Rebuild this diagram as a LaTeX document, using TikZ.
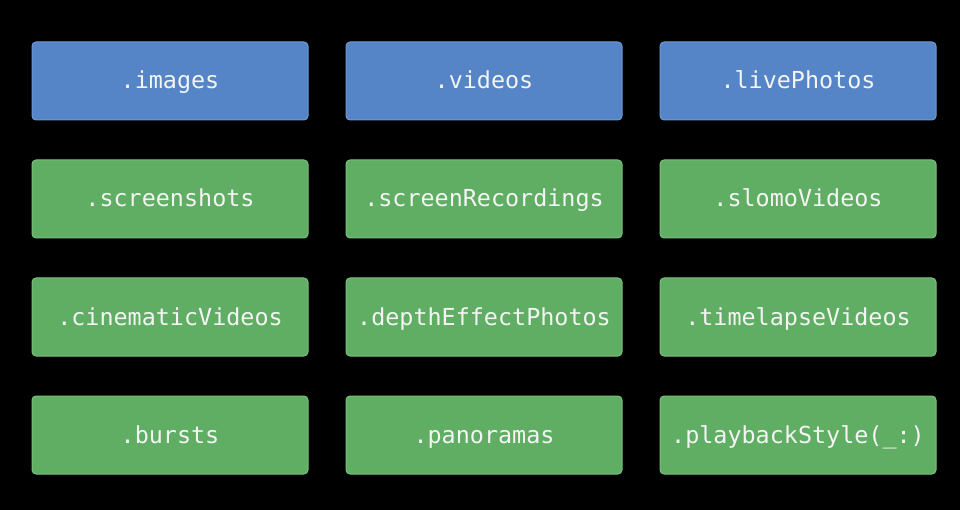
\documentclass[tikz,border=0pt]{standalone}
\usepackage{fontspec}
\newfontfamily\codefont{DejaVu Sans Mono}
\definecolor{bluefill}{HTML}{5585C6}
\definecolor{blueline}{HTML}{6E9AD2}
\definecolor{greenfill}{HTML}{5FAE63}
\definecolor{greenline}{HTML}{7BC07E}
\definecolor{labeltext}{HTML}{F4F4F4}
\begin{document}
\begin{tikzpicture}[x=1pt,y=-1pt,
  tile/.style={minimum width=276pt,minimum height=78pt,rounded corners=4pt,
    line width=1pt,inner sep=0pt,text=labeltext,
    text height=17pt,text depth=1pt,
    font=\codefont\fontsize{23.4}{27}\selectfont},
  bluetile/.style={tile,fill=bluefill,draw=blueline},
  greentile/.style={tile,fill=greenfill,draw=greenline}]
  \fill[black] (0,0) rectangle (960,510);
  \useasboundingbox (0,0) rectangle (960,510);
  % column centres 170, 484, 798; row centres 81, 199, 317, 435
  \node[bluetile]  (images)  at (170,81)  {.images};
  \node[bluetile]  (videos)  at (484,81)  {.videos};
  \node[bluetile]  (live)    at (798,81)  {.livePhotos};
  \node[greentile] (shots)   at (170,199) {.screenshots};
  \node[greentile] (recs)    at (484,199) {.screenRecordings};
  \node[greentile] (slomo)   at (798,199) {.slomoVideos};
  \node[greentile] (cine)    at (170,317) {.cinematicVideos};
  \node[greentile] (depth)   at (484,317) {.depthEffectPhotos};
  \node[greentile] (lapse)   at (798,317) {.timelapseVideos};
  \node[greentile] (bursts)  at (170,435) {.bursts};
  \node[greentile] (pano)    at (484,435) {.panoramas};
  \node[greentile] (style)   at (798,435) {.playbackStyle(\_:)};
\end{tikzpicture}
\end{document}
